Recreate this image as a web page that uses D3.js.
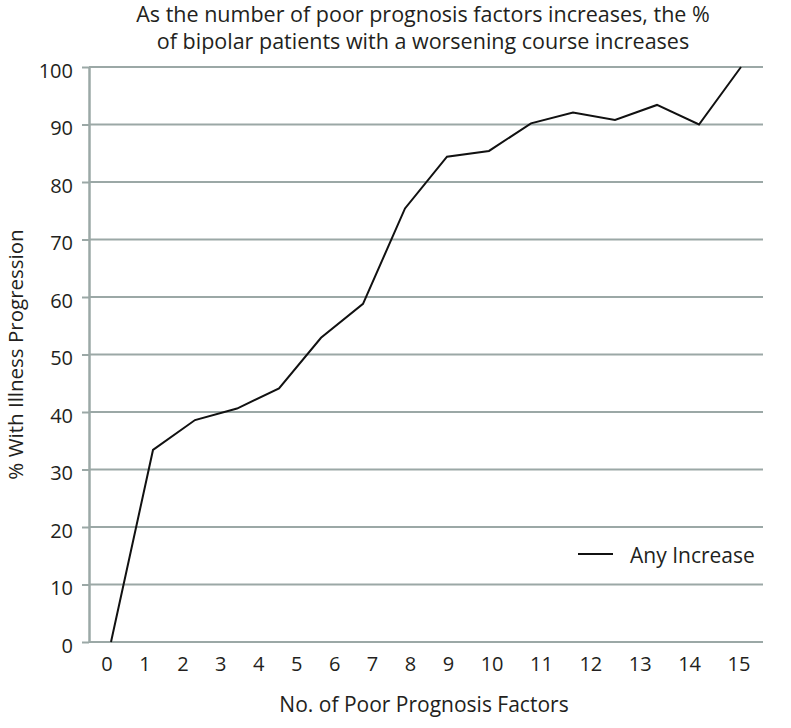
<!DOCTYPE html>
<html>
<head>
<meta charset="utf-8">
<script src="https://cdn.jsdelivr.net/npm/d3@7/dist/d3.min.js"></script>
<style>
  body { margin: 0; background: #fff; }
  text { font-family: "Open Sans", Lato, sans-serif; fill: #231f20; }
</style>
</head>
<body>
<svg id="chart" width="791" height="728"></svg>
<script>
// ---- data ----
const factors = [0, 1, 2, 3, 4, 5, 6, 7, 8, 9, 10, 11, 12, 13, 14, 15];
const anyIncrease = [0, 33.4, 38.6, 40.6, 44.1, 52.9, 58.8, 75.4, 84.4, 85.4, 90.2, 92.1, 90.8, 93.4, 90.0, 100];
const yTicks = [0, 10, 20, 30, 40, 50, 60, 70, 80, 90, 100];
const xTickLabels = ["0", "1", "2", "3", "4", "5", "6", "7", "8", "9", "10", "11", "12", "13", "14", "15"];
const titleLines = ["As the number of poor prognosis factors increases, the %",
                    "of bipolar patients with a worsening course increases"];
const xTitle = "No. of Poor Prognosis Factors";
const yTitle = "% With Illness Progression";
const seriesName = "Any Increase";

// ---- layout ----
const svg = d3.select("#chart");
const plot = { left: 89, right: 763, top: 67, bottom: 642 };
const gridColor = "#9ba8a6";
const fs = 20;
const fsLabel = 21;

const x = d3.scaleLinear().domain([0, 15]).range([111, 741]);
const y = d3.scaleLinear().domain([0, 100]).range([plot.bottom, plot.top]);

// gridlines
svg.append("g").selectAll("line").data(yTicks).join("line")
  .attr("x1", plot.left).attr("x2", plot.right)
  .attr("y1", d => y(d)).attr("y2", d => y(d))
  .attr("stroke", gridColor).attr("stroke-width", 2);

// y axis
const yAxis = svg.append("g").attr("transform", `translate(${plot.left},0)`)
  .call(d3.axisLeft(y).tickValues(yTicks).tickSize(7).tickPadding(9).tickSizeOuter(0));
yAxis.select(".domain").attr("stroke", gridColor).attr("stroke-width", 2.5);
yAxis.selectAll(".tick line").attr("stroke", gridColor).attr("stroke-width", 2);
yAxis.selectAll(".tick text").attr("font-size", fs).attr("font-family", null)
  .attr("dy", "0.52em").style("fill", "#231f20");

// x tick labels: laid out as a spaced text run
const gap = 26.5;
const xl = svg.append("g").attr("class", "xlabels");
const lbls = xl.selectAll("text").data(xTickLabels).join("text")
  .attr("font-size", fs).attr("text-anchor", "middle").attr("y", 671).text(d => d);
let cx = x(0) - 4, prevW = 0;
lbls.each(function(d, i) {
  const w = this.getComputedTextLength();
  if (i > 0) cx += prevW / 2 + gap + w / 2;
  d3.select(this).attr("x", cx);
  prevW = w;
});

// line
const line = d3.line().x((d, i) => x(factors[i])).y(d => y(d));
svg.append("path").datum(anyIncrease)
  .attr("d", line).attr("fill", "none")
  .attr("stroke", "#111").attr("stroke-width", 2).attr("stroke-linejoin", "miter");

// legend
const lg = svg.append("g");
lg.append("line").attr("x1", 578).attr("x2", 613).attr("y1", 554).attr("y2", 554)
  .attr("stroke", "#111").attr("stroke-width", 2);
lg.append("text").attr("x", 630).attr("y", 563).attr("font-size", fsLabel).text(seriesName);

// titles
const cxm = (plot.left + plot.right) / 2;
svg.append("g").selectAll("text").data(titleLines).join("text")
  .attr("x", cxm - 3).attr("y", (d, i) => 22 + i * 26.5)
  .attr("text-anchor", "middle").attr("font-size", 21.5).text(d => d);

svg.append("text").attr("x", cxm - 2).attr("y", 712).attr("text-anchor", "middle")
  .attr("font-size", fsLabel).text(xTitle);

svg.append("text").attr("transform", `translate(22.5,${(plot.top + plot.bottom) / 2}) rotate(-90)`)
  .attr("text-anchor", "middle").attr("font-size", 20.5).text(yTitle);
</script>
</body>
</html>
